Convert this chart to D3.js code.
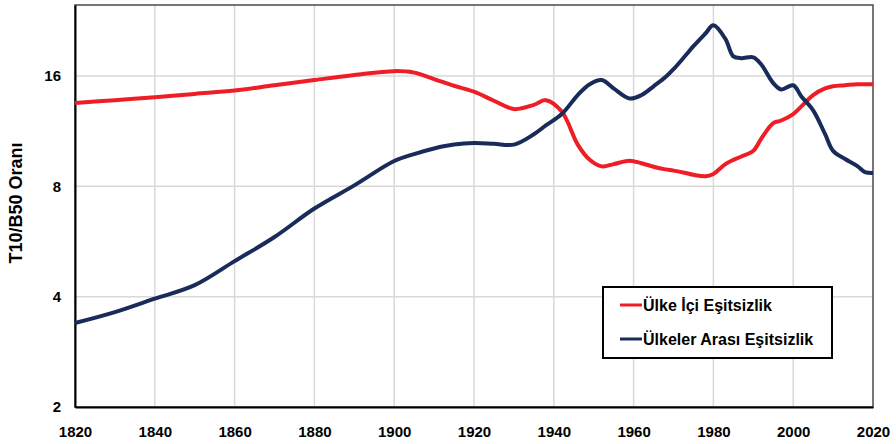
<!DOCTYPE html>
<html>
<head>
<meta charset="utf-8">
<script src="https://cdn.jsdelivr.net/npm/d3@7"></script>
<style>
  body { margin: 0; background: #fff; }
  svg text { font-family: "Liberation Sans", Arial, sans-serif; font-weight: bold; fill: #000; }
</style>
</head>
<body>
<svg id="chart" width="896" height="444"></svg>
<script>
// years
var years = [1820, 1830, 1840, 1850, 1860, 1870, 1880, 1890, 1900, 1905, 1910, 1915,
  1920, 1925, 1930, 1935, 1938, 1942, 1946, 1949, 1952, 1955, 1959, 1962, 1965,
  1968, 1970, 1973, 1975, 1978, 1980, 1983, 1985, 1987, 1990, 1992, 1995, 1997,
  2000, 2002, 2005, 2008, 2010, 2013, 2016, 2018, 2020];

// T10/B50 within countries
var withinValues = [13.5, 13.75, 14.0, 14.3, 14.6, 15.1, 15.6, 16.1, 16.5, 16.35, 15.7, 15.05,
  14.5, 13.7, 13.0, 13.35, 13.75, 12.8, 10.4, 9.45, 9.07, 9.2, 9.4, 9.25, 9.05,
  8.9, 8.83, 8.7, 8.6, 8.52, 8.65, 9.2, 9.45, 9.65, 10.0, 10.8, 11.9, 12.1,
  12.6, 13.2, 14.2, 14.8, 15.0, 15.1, 15.2, 15.2, 15.2];

// T10/B50 between countries
var betweenValues = [3.39, 3.63, 3.95, 4.3, 5.0, 5.82, 6.96, 8.05, 9.38, 9.8, 10.15, 10.4,
  10.5, 10.45, 10.4, 11.1, 11.73, 12.6, 14.2, 15.2, 15.6, 14.8, 13.9, 14.2, 15.0,
  15.9, 16.7, 18.2, 19.3, 20.9, 22.0, 20.2, 18.1, 17.9, 18.0, 17.2, 15.3, 14.7,
  15.1, 14.1, 12.9, 11.1, 10.0, 9.5, 9.1, 8.75, 8.7];

var xTicks = [1820, 1840, 1860, 1880, 1900, 1920, 1940, 1960, 1980, 2000, 2020];
var yTicks = [2, 4, 8, 16];

var seriesNames = ["Ülke İçi Eşitsizlik", "Ülkeler Arası Eşitsizlik"];
var seriesColors = ["#ee1d26", "#182b59"];

var svg = d3.select("#chart");
var margin = {top: 5, right: 23, bottom: 37, left: 75},
    width = 896 - margin.left - margin.right,
    height = 444 - margin.top - margin.bottom;

var x = d3.scaleLinear().domain([1820, 2020]).range([0, width]);
var y = d3.scaleLog().base(2).domain([2, 25]).range([height, 0]);

var g = svg.append("g")
  .attr("transform", "translate(" + margin.left + "," + margin.top + ")");

// grid
g.append("g").selectAll("line")
  .data(xTicks.slice(1, -1))
  .enter().append("line")
    .attr("x1", function(d) { return x(d); })
    .attr("x2", function(d) { return x(d); })
    .attr("y1", 0).attr("y2", height)
    .attr("stroke", "#d9d9d9").attr("stroke-width", 1.5);

g.append("g").selectAll("line")
  .data(yTicks.slice(1))
  .enter().append("line")
    .attr("x1", 0).attr("x2", width)
    .attr("y1", function(d) { return y(d); })
    .attr("y2", function(d) { return y(d); })
    .attr("stroke", "#d9d9d9").attr("stroke-width", 1.5);

// frame
g.append("rect")
  .attr("width", width).attr("height", height)
  .attr("fill", "none").attr("stroke", "#4a4a4a").attr("stroke-width", 1.5);

// axes
var xAxis = g.append("g")
  .attr("transform", "translate(0," + height + ")")
  .call(d3.axisBottom(x).tickValues(xTicks).tickFormat(d3.format("d")).tickSize(0).tickPadding(19));
xAxis.select(".domain").attr("stroke", "#000").attr("stroke-width", 2);
xAxis.selectAll("text").style("font-size", "15px");

var yAxis = g.append("g")
  .call(d3.axisLeft(y).tickValues(yTicks).tickFormat(d3.format("d")).tickSize(0).tickPadding(14));
yAxis.select(".domain").attr("stroke", "#000").attr("stroke-width", 2);
yAxis.selectAll("text").style("font-size", "15px");

svg.append("text")
  .attr("transform", "translate(22,203) rotate(-90)")
  .attr("text-anchor", "middle")
  .style("font-size", "18px")
  .text("T10/B50 Oranı");

// lines
var line = d3.line()
  .x(function(d) { return x(d[0]); })
  .y(function(d) { return y(d[1]); })
  .curve(d3.curveCatmullRom.alpha(0.5));

[withinValues, betweenValues].forEach(function(vals, i) {
  g.append("path")
    .datum(years.map(function(yr, j) { return [yr, vals[j]]; }))
    .attr("fill", "none")
    .attr("stroke", seriesColors[i])
    .attr("stroke-width", 4)
    .attr("stroke-linejoin", "round")
    .attr("d", line);
});

// legend
var legend = svg.append("g").attr("transform", "translate(603,287)");
legend.append("rect")
  .attr("width", 229).attr("height", 71)
  .attr("fill", "#fff").attr("stroke", "#000").attr("stroke-width", 2);

seriesNames.forEach(function(name, i) {
  var ly = 18 + i * 34;
  legend.append("line")
    .attr("x1", 17).attr("x2", 39)
    .attr("y1", ly).attr("y2", ly)
    .attr("stroke", seriesColors[i]).attr("stroke-width", 3);
  legend.append("text")
    .attr("x", 40).attr("y", ly + 5.5)
    .style("font-size", "16px")
    .text(name);
});
</script>
</body>
</html>
